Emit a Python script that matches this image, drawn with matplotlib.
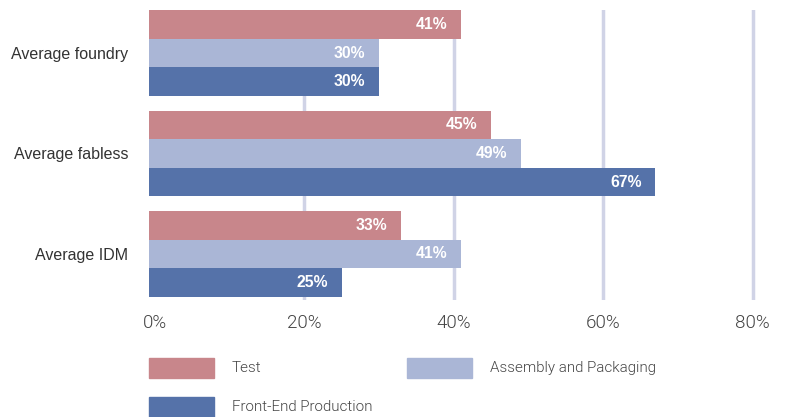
import matplotlib
matplotlib.use("Agg")
import matplotlib.pyplot as plt
from matplotlib.patches import Rectangle
from matplotlib import font_manager
from matplotlib.font_manager import FontProperties

categories = ["Average foundry", "Average fabless", "Average IDM"]
series_names = ["Test", "Assembly and Packaging", "Front-End Production"]
test_vals = [41, 45, 33]
ap_vals = [30, 49, 41]
fe_vals = [30, 67, 25]
x_ticks = [0, 20, 40, 60, 80]
x_tick_labels = ["0%", "20%", "40%", "60%", "80%"]

colors = ["#c8868b", "#aab6d6", "#5572a9"]
grid_color = "#d0d3e6"


def pick_light_font():
    entries = [f for f in font_manager.fontManager.ttflist
               if f.name == "Roboto" and f.style == "normal"
               and "condensed" not in str(f.stretch).lower()]
    light = [f for f in entries if isinstance(f.weight, int) and 250 <= f.weight <= 350]
    if light:
        return FontProperties(fname=light[0].fname)
    if entries:
        return FontProperties(family="Roboto", weight="light")
    return FontProperties(family="Liberation Sans")


light_fp = pick_light_font()

W, H = 788, 417
fig = plt.figure(figsize=(W / 100, H / 100), dpi=100)
ax = fig.add_axes([149 / W, 1 - 300 / H, 618.5 / W, 290 / H])

bar_h = 0.284
pad_left = 0.8
all_vals = [test_vals, ap_vals, fe_vals]
for i, (vals, col) in enumerate(zip(all_vals, colors)):
    ys = [c + (i - 1) * bar_h for c in range(len(categories))]
    bars = ax.barh(ys, [v + pad_left for v in vals], left=-pad_left, height=bar_h,
                   color=col, zorder=3)
    for b, v in zip(bars, vals):
        ax.annotate(f"{v}%", xy=(v, b.get_y() + b.get_height() / 2),
                    xytext=(-14, 0), textcoords="offset pixels",
                    ha="right", va="center", color="white", fontweight="bold",
                    fontsize=11.3, family="Liberation Sans", zorder=4)

ax.set_xlim(-pad_left, 82)
ax.set_ylim(2.458, -0.428)
ax.set_xticks(x_ticks)
tick_fp = light_fp.copy()
tick_fp.set_size(13.5)
ax.set_xticklabels(x_tick_labels, fontproperties=tick_fp, color="#444444")
ax.set_yticks(range(len(categories)))
ax.set_yticklabels(categories, family="Liberation Sans", fontsize=11.5, color="#333333")
ax.tick_params(axis="x", length=0, pad=10)
ax.tick_params(axis="y", length=0, pad=15)
for s in ax.spines.values():
    s.set_visible(False)
ax.xaxis.grid(True, color=grid_color, linewidth=2.5, zorder=0)
ax.get_xgridlines()[0].set_visible(False)
ax.set_axisbelow(True)

# legend
leg_fp = light_fp.copy()
leg_fp.set_size(10.9)
leg_items = [(149, 358, 232), (407, 358, 490), (149, 397, 232)]
for (px, py, tx), col, name in zip(leg_items, colors, series_names):
    fig.add_artist(Rectangle((px / W, 1 - (py + 20) / H), 65 / W, 20 / H,
                             transform=fig.transFigure, color=col))
    fig.text(tx / W, 1 - (py + 10) / H, name, fontproperties=leg_fp,
             color="#444444", ha="left", va="center")

fig.savefig("out.png", dpi=100)
